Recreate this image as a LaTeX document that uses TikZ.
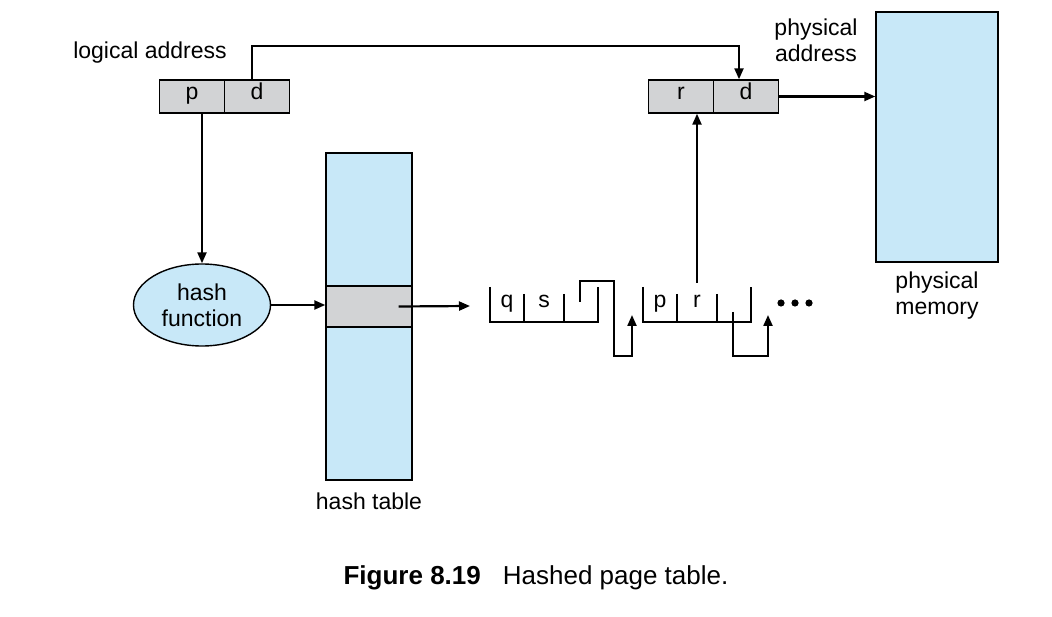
\documentclass[tikz,border=0pt]{standalone}
\usepackage{fontspec}
\setmainfont{Liberation Sans}
\usetikzlibrary{shapes.geometric}
\usetikzlibrary{arrows.meta}
\definecolor{memblue}{RGB}{200,232,248}
\definecolor{cellgray}{RGB}{210,211,213}

\begin{document}
\begin{tikzpicture}[x=1pt,y=-1pt,line width=1.4pt,font=\fontsize{23}{26}\selectfont,
  cell/.style={draw,fill=cellgray,minimum width=65pt,minimum height=33pt,inner sep=0pt,text height=0.72em,text depth=0.2em},
  field/.style={inner sep=0pt,text height=0.72em,text depth=0.2em},
  link/.style={line width=2.2pt,-{Triangle[length=11pt,width=9pt]}},
  chain/.style={line width=2.1pt}]
\useasboundingbox (0,0) rectangle (1052,617);
\node[cell] (lp) at (192, 96.5) {p};
\node[cell] (ld) at (257, 96.5) {d};
\node[cell] (pr) at (681, 96.5) {r};
\node[cell] (pd) at (746, 96.5) {d};
\node (lal) at (150, 53) {logical address};
\node[align=center] (pal) at (816, 40) {physical\\address};
\node[draw,fill=memblue,minimum width=122pt,minimum height=250pt] (mem) at (937, 137) {};
\node[align=center] (meml) at (937, 296) {physical\\memory};
\node[draw,fill=memblue,minimum width=86pt,minimum height=327pt] (ht) at (369, 316.5) {};
\node[draw,fill=cellgray,minimum width=86pt,minimum height=41pt] (hb) at (369, 306.5) {};
\node (htl) at (369, 501) {hash table};
\node[draw,ellipse,fill=memblue,minimum width=137pt,minimum height=82pt,inner sep=0pt,align=center] (hf) at (202, 305) {hash\\function};
\node[field] (q1) at (507, 305) {q};
\node[field] (s1) at (544, 305) {s};
\node[field] (p2) at (660, 305) {p};
\node[field] (r2) at (697, 305) {r};
\coordinate (chainin) at (470, 306);
\coordinate (rfield) at (697, 283);

\draw[link] (hf.north |- lp.south) -- (hf.north);
\draw[link] (hf.east) -- (ht.west |- hf.east);
\draw[link] ([xshift=-5pt]ld.north) -- ++(0,-33) -| ([xshift=-7pt]pd.north);
\draw[link] (pd.east) -- (mem.west |- pd.east);
\draw[link] ([xshift=-14pt]hb.east) -- (chainin);
\draw[link] (rfield) -- (rfield |- pr.south);

\draw[chain] (490, 287) -- (490, 322) -- (598, 322) -- (598, 287);
\draw[chain] (524, 294) -- (524, 322);
\draw[chain] (564, 294) -- (564, 322);
\draw[link] (580, 302) -- (580, 281) -- (614, 281) -- (614, 356) -- (632, 356) -- (632, 315);
\draw[chain] (643, 287) -- (643, 322) -- (751, 322) -- (751, 287);
\draw[chain] (677, 294) -- (677, 322);
\draw[chain] (717, 294) -- (717, 322);
\draw[link] (733, 312) -- (733, 356) -- (768, 356) -- (768, 315);
\fill (781, 303) circle (3.6pt) (795, 303) circle (3.6pt) (809, 303) circle (3.6pt);

\node[font=\fontsize{26}{30}\selectfont] (cap) at (536, 578) {\textbf{Figure 8.19}\hspace{22pt}Hashed page table.};
\end{tikzpicture}
\end{document}
